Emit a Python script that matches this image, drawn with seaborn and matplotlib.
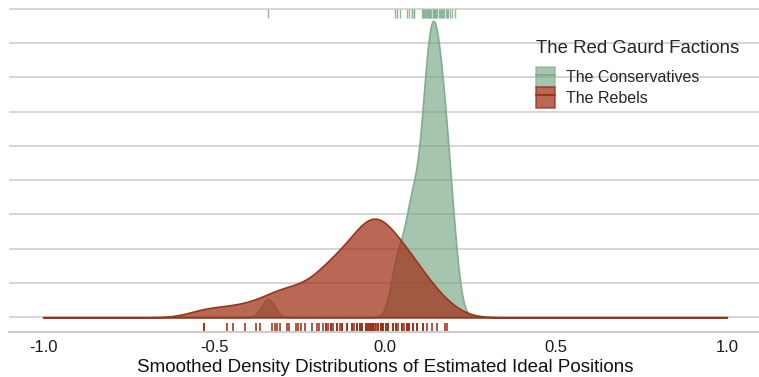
import numpy as np
import pandas as pd
import seaborn as sns
import matplotlib
matplotlib.use("Agg")
import matplotlib.pyplot as plt
from matplotlib.patches import Patch
from matplotlib.lines import Line2D

# %% data read off the rug marks
conservatives = [-0.342, 0.029, 0.036, 0.044, 0.063, 0.071, 0.080, 0.080, 0.086, 0.086,
                 0.107, 0.110, 0.113, 0.116, 0.119, 0.122, 0.125, 0.128, 0.130, 0.133,
                 0.136, 0.139, 0.141, 0.143, 0.145, 0.147, 0.150, 0.153, 0.157, 0.160,
                 0.163, 0.166, 0.169, 0.173, 0.177, 0.181, 0.185, 0.190, 0.196, 0.205]

rebels = [-0.529, -0.529, -0.463, -0.445, -0.411, -0.377, -0.365, -0.330, -0.323, -0.316,
          -0.307, -0.287, -0.281, -0.260, -0.254, -0.246, -0.234, -0.214, -0.200,
          -0.192, -0.182, -0.173, -0.173, -0.166, -0.159, -0.159, -0.151, -0.141, -0.141,
          -0.132, -0.125, -0.125, -0.112, -0.112, -0.097, -0.097, -0.091, -0.083, -0.083,
          -0.073, -0.073, -0.068, -0.068,
          -0.056, -0.056, -0.050, -0.050, -0.045, -0.045, -0.040, -0.040, -0.035, -0.035, -0.035,
          -0.030, -0.025, -0.020, -0.020, -0.013, -0.013, -0.010, -0.005, -0.005, 0.003, 0.003,
          0.010, 0.010,
          0.024, 0.024, 0.032, 0.032, 0.039, 0.049, 0.049, 0.056, 0.063, 0.063, 0.071, 0.071,
          0.083, 0.083, 0.094, 0.094,
          0.112, 0.112, 0.122, 0.137, 0.151, 0.175, 0.182]

factions = ["The Conservatives", "The Rebels"]
x_ticks = [-1.0, -0.5, 0.0, 0.5, 1.0]
x_label = "Smoothed Density Distributions of Estimated Ideal Positions"
legend_title = "The Red Gaurd Factions"

fills = {"The Conservatives": "#6a9f7a", "The Rebels": "#a0351c"}
edges = {"The Conservatives": "#82ad8f", "The Rebels": "#9b3519"}
rugs = {"The Conservatives": "#86b092", "The Rebels": "#9a2a10"}
alphas = {"The Conservatives": 0.6, "The Rebels": 0.75}

df = pd.DataFrame(dict(
    faction=[factions[0]] * len(conservatives) + [factions[1]] * len(rebels),
    position=conservatives + rebels,
))


def nrd0(kde):
    # R's default bandwidth (bw.nrd0), returned as a factor of the sd
    x = kde.dataset.ravel()
    sd = x.std(ddof=1)
    iqr = np.subtract(*np.percentile(x, [75, 25]))
    h = 0.9 * min(sd, iqr / 1.34) * len(x) ** -0.2
    return h / sd


# %% plot
sns.set_theme(style="white")
plt.rcParams["font.family"] = ["Liberation Sans", "DejaVu Sans"]

fig = plt.figure(figsize=(7.59, 3.77), dpi=100)
ax = fig.add_axes([9 / 759, 45 / 377, 752 / 759, 324 / 377])

for name, sub in df.groupby("faction", sort=False):
    sns.kdeplot(
        data=sub, x="position",
        bw_method=nrd0, cut=100, clip=(-1, 1), gridsize=1200,
        fill=True, color=fills[name], alpha=alphas[name],
        edgecolor=edges[name], linewidth=1.2,
        ax=ax,
    )

# rebels rug at the bottom, conservatives rug along the top
sns.rugplot(data=df[df.faction == "The Rebels"], x="position", height=0.028,
            color=rugs["The Rebels"], linewidth=1.1, expand_margins=False, ax=ax)
ax.vlines(df.loc[df.faction == "The Conservatives", "position"], 0.968, 0.998,
          transform=ax.get_xaxis_transform(), color=rugs["The Conservatives"],
          linewidth=1.0, alpha=0.9)

ax.set_xlim(-1.1, 1.1)
ax.set_ylim(-0.43, 9.02)
ax.set_xticks(x_ticks)
ax.set_xticklabels([f"{t:.1f}" for t in x_ticks])
ax.set_yticks(np.arange(0, 10))
ax.set_yticklabels([])
ax.yaxis.grid(True, color="#d3d3d3", linewidth=1.3)
ax.xaxis.grid(False)
ax.tick_params(axis="y", length=0)
ax.tick_params(axis="x", length=3, width=1, color="#c8c8c8", labelsize=12,
               labelcolor="#1a1a1a", pad=3)
for side in ["top", "left", "right"]:
    ax.spines[side].set_visible(False)
ax.spines["bottom"].set_color("#cccccc")
ax.spines["bottom"].set_linewidth(1.5)
ax.set_ylabel("")
ax.set_xlabel(x_label, fontsize=13.5, color="#111111", labelpad=3)

handles = [
    (Patch(facecolor=fills[f], alpha=alphas[f], edgecolor=edges[f], linewidth=1.2),
     Line2D([], [], color=edges[f], linewidth=1.5))
    for f in factions
]
leg = ax.legend(
    handles, factions, title=legend_title,
    loc="upper left", bbox_to_anchor=(536 / 759, 1 - 40 / 377),
    bbox_transform=fig.transFigure, frameon=False,
    fontsize=11.5, title_fontsize=13.4, alignment="left",
    handlelength=1.2, handleheight=1.62, labelspacing=0,
    handletextpad=0.65, borderpad=0, borderaxespad=0,
)
leg._legend_box.sep = 7

fig.savefig("out.png", dpi=100)
